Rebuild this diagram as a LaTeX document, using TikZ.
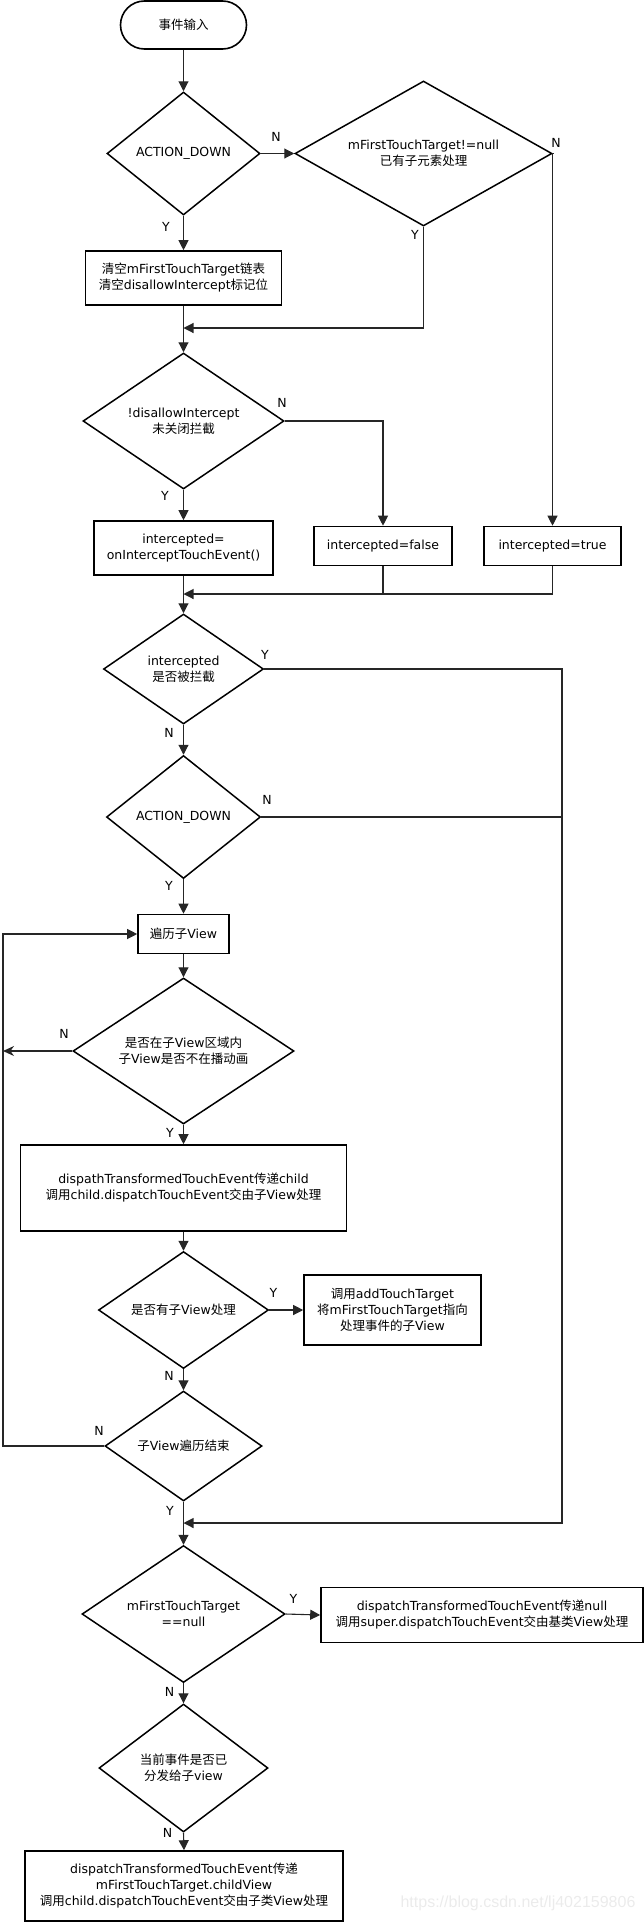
\documentclass[tikz,border=0pt]{standalone}
\usepackage{fontspec}
\setmainfont{DejaVu Sans}
\newfontfamily\cjk{Noto Sans CJK SC}
\newfontfamily\wmfont{Liberation Sans}
\usetikzlibrary{shapes.geometric,arrows.meta}
\newcommand{\zh}[1]{{\cjk #1}}
\begin{document}
\begin{tikzpicture}[x=1pt,y=-1pt,
  every node/.style={font=\fontsize{12.5}{16}\selectfont},
  shapebox/.style={draw, line width=1.6pt, inner sep=0pt, align=center},
  rectbox/.style={shapebox, rectangle},
  decision/.style={shapebox, diamond, line width=1.5pt},
  lbl/.style={inner sep=0pt},
  conn/.style={draw=black!85, line width=1.1pt},
  arr/.style={conn, -{Triangle[length=10pt,width=10pt]}},
  larr/.style={conn, line width=1.4pt, -{Stealth[length=11pt,width=10pt]}},
]
\useasboundingbox (0,0) rectangle (644,1922);

% nodes
\node[rectbox, rounded corners=24pt, minimum width=126pt, minimum height=48pt] (start) at (183.5,25) {\zh{事件输入}};
\node[decision, minimum width=153pt, minimum height=123pt, shape aspect=1.24] (d1) at (183.5,153.5) {ACTION\_DOWN};
\node[decision, minimum width=257pt, minimum height=145pt, shape aspect=1.77] (d2) at (423.5,153.5) {mFirstTouchTarget!=null\\\zh{已有子元素处理}};
\node[rectbox, minimum width=196pt, minimum height=54pt] (b1) at (183.5,278) {\zh{清空}mFirstTouchTarget\zh{链表}\\\zh{清空}disallowIntercept\zh{标记位}};
\node[decision, minimum width=201pt, minimum height=136pt, shape aspect=1.48] (d3) at (183.5,421) {!disallowIntercept\\\zh{未关闭拦截}};
\node[rectbox, minimum width=179pt, minimum height=54pt] (b2) at (183.5,548) {intercepted=\\onInterceptTouchEvent()};
\node[rectbox, minimum width=138pt, minimum height=39pt] (b3) at (383,546) {intercepted=false};
\node[rectbox, minimum width=137pt, minimum height=39pt] (b4) at (552.5,546) {intercepted=true};
\node[decision, minimum width=160pt, minimum height=110pt, shape aspect=1.45] (d4) at (183.5,669) {intercepted\\\zh{是否被拦截}};
\node[decision, minimum width=154pt, minimum height=123pt, shape aspect=1.25] (d5) at (183.5,817) {ACTION\_DOWN};
\node[rectbox, minimum width=91pt, minimum height=39pt] (b5) at (183.5,934) {\zh{遍历子}View};
\node[decision, minimum width=221pt, minimum height=146pt, shape aspect=1.51] (d6) at (183.5,1051) {\zh{是否在子}View\zh{区域内}\\\zh{子}View\zh{是否不在播动画}};
\node[rectbox, minimum width=326pt, minimum height=86pt] (b6) at (183.5,1188) {dispathTransformedTouchEvent\zh{传递}child\\\zh{调用}child.dispatchTouchEvent\zh{交由子}View\zh{处理}};
\node[decision, minimum width=170pt, minimum height=117pt, shape aspect=1.45] (d7) at (183.5,1310) {\zh{是否有子}View\zh{处理}};
\node[rectbox, minimum width=177pt, minimum height=70pt] (b7) at (392.5,1310) {\zh{调用}addTouchTarget\\\zh{将}mFirstTouchTarget\zh{指向}\\\zh{处理事件的子}View};
\node[decision, minimum width=157pt, minimum height=110pt, shape aspect=1.43] (d8) at (183.5,1446) {\zh{子}View\zh{遍历结束}};
\node[decision, minimum width=203pt, minimum height=137pt, shape aspect=1.48] (d9) at (183.5,1614) {mFirstTouchTarget\\==null};
\node[rectbox, minimum width=322pt, minimum height=55pt] (b8) at (482,1615) {dispatchTransformedTouchEvent\zh{传递}null\\\zh{调用}super.dispatchTouchEvent\zh{交由基类}View\zh{处理}};
\node[decision, minimum width=169pt, minimum height=128pt, shape aspect=1.32] (d10) at (183.5,1768) {\zh{当前事件是否已}\\\zh{分发给子}view};
\node[rectbox, minimum width=318pt, minimum height=70pt] (b9) at (184,1886) {dispatchTransformedTouchEvent\zh{传递}\\mFirstTouchTarget.childView\\\zh{调用}child.dispatchTouchEvent\zh{交由子类}View\zh{处理}};

% labels
\node[lbl] (l1) at (276,137) {N};
\node[lbl] (l2) at (556,143) {N};
\node[lbl] (l3) at (415,235) {Y};
\node[lbl] (l4) at (166,227) {Y};
\node[lbl] (l5) at (282,403) {N};
\node[lbl] (l6) at (165,496) {Y};
\node[lbl] (l7) at (265,655) {Y};
\node[lbl] (l8) at (169,733) {N};
\node[lbl] (l9) at (267,800) {N};
\node[lbl] (l10) at (169,886) {Y};
\node[lbl] (l11) at (64,1034) {N};
\node[lbl] (l12) at (170,1133) {Y};
\node[lbl] (l13) at (273.5,1293) {Y};
\node[lbl] (l14) at (169,1376) {N};
\node[lbl] (l15) at (99,1431) {N};
\node[lbl] (l16) at (170,1511) {Y};
\node[lbl] (l17) at (293.5,1599) {Y};
\node[lbl] (l18) at (169.5,1692) {N};
\node[lbl] (l19) at (167.5,1833) {N};

\node[text=black!8, font=\wmfont\fontsize{16}{16}\selectfont] (wm) at (518,1903) {https://blog.csdn.net/lj402159806};

% helper coordinates
\coordinate (m1) at (183.5,328);
\coordinate (m2) at (183.5,594);
\coordinate (m3) at (183.5,1523);
\coordinate (rx) at (562,1523);
\coordinate (lx) at (3,934);

% connectors
\draw[arr] (start.south) -- (d1.north);
\draw[arr] (d1.east) -- (d2.west);
\draw[arr] (d1.south) -- (b1.north);
\draw[arr] (d2.south) |- (m1);
\draw[arr] (b1.south) -- (d3.north);
\draw[arr] (d3.east) -| (b3.north);
\draw[arr] (d2.east) -| (b4.north);
\draw[arr] (d3.south) -- (b2.north);
\draw[arr] (b2.south) -- (d4.north);
\draw[arr] (b4.south) |- (m2);
\draw[conn] (b3.south) -- (b3.south |- m2);
\draw[arr] (d4.east) -| (rx) -- (m3);
\draw[arr] (d4.south) -- (d5.north);
\draw[conn] (d5.east) -- (d5.east -| rx);
\draw[arr] (d5.south) -- (b5.north);
\draw[arr] (b5.south) -- (d6.north);
\draw[larr] (d6.west) -- (d6.west -| lx);
\draw[arr] (d6.south) -- (b6.north);
\draw[arr] (b6.south) -- (d7.north);
\draw[arr] (d7.east) -- (b7.west);
\draw[arr] (d7.south) -- (d8.north);
\draw[arr] (d8.west) -| (lx) -- (b5.west);
\draw[arr] (d8.south) -- (d9.north);
\draw[arr] (d9.east) -- (b8.west);
\draw[arr] (d9.south) -- (d10.north);
\draw[arr] (d10.south) -- (b9.north);
\end{tikzpicture}
\end{document}
